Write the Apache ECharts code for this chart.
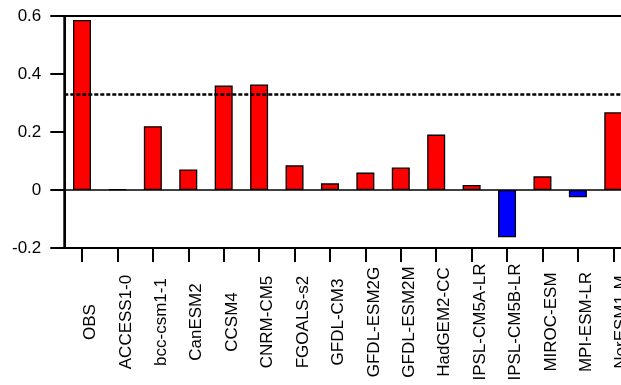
<!DOCTYPE html>
<html>
<head>
<meta charset="utf-8">
<script src="https://cdn.jsdelivr.net/npm/echarts@6/dist/echarts.min.js"></script>
<style>
html,body{margin:0;padding:0;background:#fff;overflow:hidden;width:621px;height:385px;}
#c{width:660px;height:385px;}
</style>
</head>
<body>
<div id="c"></div>
<script>
const categories = ["OBS","ACCESS1-0","bcc-csm1-1","CanESM2","CCSM4","CNRM-CM5","FGOALS-s2","GFDL-CM3","GFDL-ESM2G","GFDL-ESM2M","HadGEM2-CC","IPSL-CM5A-LR","IPSL-CM5B-LR","MIROC-ESM","MPI-ESM-LR","NorESM1-M"];
const values = [0.586,0.003,0.220,0.071,0.360,0.364,0.085,0.023,0.060,0.078,0.191,0.017,-0.163,0.047,-0.025,0.268];
const refLine = 0.33;
const yTicks = {min:-0.2, max:0.6, interval:0.2};

const chart = echarts.init(document.getElementById('c'), null, {renderer:'canvas'});
const FONT = 'Liberation Sans, Arial, Helvetica, sans-serif';
chart.setOption({
  animation:false,
  backgroundColor:'#fff',
  grid:{left:64.3, top:16, width:566.7, bottom:137, show:true, borderColor:'#000', borderWidth:2, backgroundColor:'transparent'},
  xAxis:{
    type:'category', data:categories, position:'bottom',
    axisLine:{show:true, onZero:false, lineStyle:{color:'#000', width:2}},
    axisTick:{show:true, alignWithLabel:true, length:14, lineStyle:{color:'#000', width:2}},
    axisLabel:{rotate:90, align:'center', verticalAlign:'top', margin:74, fontSize:17, color:'#000', fontFamily:FONT, interval:0},
    splitLine:{show:false}
  },
  yAxis:{
    type:'value', min:yTicks.min, max:yTicks.max, interval:yTicks.interval,
    axisLine:{show:true, onZero:false, lineStyle:{color:'#000', width:2}},
    axisTick:{show:true, length:14, lineStyle:{color:'#000', width:2}},
    axisLabel:{fontSize:17, color:'#000', fontFamily:FONT, margin:23},
    splitLine:{show:false}
  },
  series:[{
    type:'bar',
    barWidth:18,
    data:values.map(v=>({value:v, itemStyle:{color: v>=0 ? '#ff0000' : '#0000ff'}})),
    itemStyle:{borderColor:'#000', borderWidth:1.3},
    markLine:{
      silent:true, symbol:'none', label:{show:false},
      data:[
        {yAxis:0, lineStyle:{color:'#000', width:1.5, type:'solid'}},
        {yAxis:refLine, lineStyle:{color:'#000', width:2.5, type:[4,2]}}
      ]
    }
  }]
});
</script>
</body>
</html>
